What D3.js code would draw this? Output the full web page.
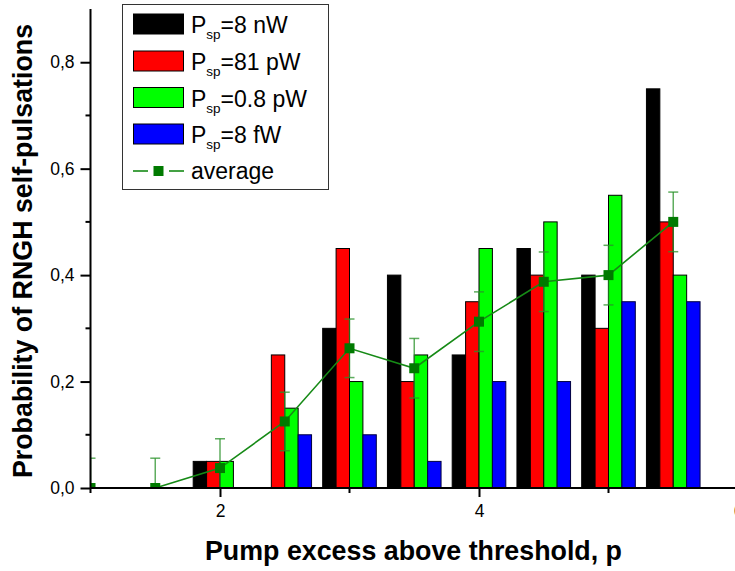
<!DOCTYPE html>
<html>
<head>
<meta charset="utf-8">
<script src="https://cdn.jsdelivr.net/npm/d3@7"></script>
<style>
  body { margin: 0; background: #fff; }
  text { font-family: Arial, "Liberation Sans", sans-serif; }
</style>
</head>
<body>
<div id="chart"></div>
<script>
// Data
const groupX = [2, 2.5, 3, 3.5, 4, 4.5, 5, 5.5];
const p8nW = [0.05, 0, 0.3, 0.4, 0.25, 0.45, 0.4, 0.75];
const p81pW = [0.05, 0.25, 0.45, 0.2, 0.35, 0.4, 0.3, 0.5];
const p08pW = [0.05, 0.15, 0.2, 0.25, 0.45, 0.5, 0.55, 0.4];
const p8fW = [0, 0.1, 0.1, 0.05, 0.2, 0.2, 0.35, 0.35];

const avgX = [1, 1.5, 2, 2.5, 3, 3.5, 4, 4.5, 5, 5.5];
const avgY = [0, 0, 0.0375, 0.125, 0.2625, 0.225, 0.3125, 0.3875, 0.4, 0.5];
const avgErr = [0.056, 0.056, 0.055, 0.055, 0.055, 0.056, 0.056, 0.056, 0.056, 0.056];

const seriesNames = ["=8 nW", "=81 pW", "=0.8 pW", "=8 fW"];
const seriesColors = ["#000000", "#ff0000", "#00ff00", "#0000ff"];
const yTicks = [0, 0.2, 0.4, 0.6, 0.8];
const yMinor = [0.1, 0.3, 0.5, 0.7];
const xTicks = [2, 4, 6];
const xMinor = [1, 3, 5];

const width = 735;
const height = 571;

const svg = d3.select("#chart")
    .append("svg")
    .attr("width", width)
    .attr("height", height);

// Scales
const x = d3.scaleLinear().domain([1, 6]).range([90.5, 738]);
const y = d3.scaleLinear().domain([0, 0.9]).range([488, 9]);
const barW = 0.1035; // bar width in data units

svg.append("clipPath").attr("id", "plot")
    .append("rect").attr("x", 90).attr("y", 0).attr("width", 650).attr("height", 488);

const plot = svg.append("g").attr("clip-path", "url(#plot)");

// Bars
const allSeries = [p8nW, p81pW, p08pW, p8fW];
allSeries.forEach((vals, s) => {
    plot.append("g")
        .selectAll("rect")
        .data(groupX.map((gx, i) => ({ gx: gx, v: vals[i] })).filter(d => d.v > 0))
        .enter()
        .append("rect")
        .attr("x", d => x(d.gx + (s - 2) * barW))
        .attr("y", d => y(d.v))
        .attr("width", x(1 + barW) - x(1))
        .attr("height", d => y(0) - y(d.v))
        .attr("fill", seriesColors[s])
        .attr("stroke", s === 3 ? "#000040" : "#000")
        .attr("stroke-width", 1);
});

// Average line
const avgData = avgX.map((ax, i) => ({ x: ax, y: avgY[i], e: avgErr[i] }));
const line = d3.line().x(d => x(d.x)).y(d => y(d.y));

plot.append("path")
    .datum(avgData)
    .attr("d", line)
    .attr("fill", "none")
    .attr("stroke", "#168a16")
    .attr("stroke-width", 1.6);

// Error bars
const err = plot.append("g")
    .attr("stroke", "#2a922a")
    .attr("stroke-opacity", 0.75)
    .attr("stroke-width", 1.5);
err.selectAll("line.v")
    .data(avgData).enter().append("line")
    .attr("x1", d => x(d.x)).attr("x2", d => x(d.x))
    .attr("y1", d => y(d.y + d.e)).attr("y2", d => y(d.y - d.e));
err.selectAll("line.t")
    .data(avgData).enter().append("line")
    .attr("x1", d => x(d.x) - 5).attr("x2", d => x(d.x) + 5)
    .attr("y1", d => y(d.y + d.e)).attr("y2", d => y(d.y + d.e));
err.selectAll("line.b")
    .data(avgData).enter().append("line")
    .attr("x1", d => x(d.x) - 5).attr("x2", d => x(d.x) + 5)
    .attr("y1", d => y(d.y - d.e)).attr("y2", d => y(d.y - d.e));

// Markers
plot.selectAll("rect.m")
    .data(avgData).enter().append("rect")
    .attr("x", d => x(d.x) - 5)
    .attr("y", d => y(d.y) - 5)
    .attr("width", 10)
    .attr("height", 10)
    .attr("fill", "#007a00");

// Axes
const fmt = d => d3.format(".1f")(d).replace(".", ",");
const yAxis = svg.append("g")
    .attr("transform", `translate(${x(1)},0)`)
    .call(d3.axisLeft(y).tickValues(yTicks).tickFormat(fmt).tickSize(10).tickPadding(6));
yAxis.append("g").selectAll("line")
    .data(yMinor).enter().append("line")
    .attr("x1", -5).attr("x2", 0)
    .attr("y1", d => y(d)).attr("y2", d => y(d))
    .attr("stroke", "#000");

const xAxis = svg.append("g")
    .attr("transform", `translate(0,${y(0)})`)
    .call(d3.axisBottom(x).tickValues(xTicks).tickFormat(d3.format("d")).tickSize(9).tickPadding(8));
xAxis.append("g").selectAll("line")
    .data(xMinor).enter().append("line")
    .attr("x1", d => x(d)).attr("x2", d => x(d))
    .attr("y1", 0).attr("y2", 5)
    .attr("stroke", "#000");

[yAxis, xAxis].forEach(a => {
    a.select(".domain").attr("stroke-width", 2);
    a.selectAll("line").attr("stroke-width", 2);
    a.selectAll("text").style("font-size", "17.5px").attr("fill", "#000");
});
yAxis.select(".domain").attr("d", `M0,${y(0.9)}V${y(0)}`);
xAxis.select(".domain").attr("d", `M${x(1)},0H${x(6)}`);

// Axis titles
svg.append("text")
    .attr("x", 413.5)
    .attr("y", 560)
    .attr("text-anchor", "middle")
    .style("font-size", "26.8px")
    .style("font-weight", "bold")
    .text("Pump excess above threshold, p");

svg.append("text")
    .attr("transform", "translate(32,251) rotate(-90)")
    .attr("text-anchor", "middle")
    .style("font-size", "26.8px")
    .style("font-weight", "bold")
    .text("Probability of RNGH self-pulsations");

// Legend
const legend = svg.append("g").attr("class", "legend");
legend.append("rect")
    .attr("x", 122.5).attr("y", 4.5)
    .attr("width", 206).attr("height", 185)
    .attr("fill", "#fff")
    .attr("stroke", "#333")
    .attr("stroke-width", 1);

const rowY = [24, 61, 97.5, 134, 171];
seriesNames.forEach((name, i) => {
    legend.append("rect")
        .attr("x", 133.5).attr("y", rowY[i] - 10)
        .attr("width", 50).attr("height", 20)
        .attr("fill", seriesColors[i])
        .attr("stroke", "#000");
    const t = legend.append("text")
        .attr("x", 191)
        .attr("y", rowY[i] + 9)
        .style("font-size", "23px");
    t.append("tspan").text("P");
    t.append("tspan").attr("dy", 6).style("font-size", "13.5px").text("sp");
    t.append("tspan").attr("dy", -6).text(name);
});

legend.append("line")
    .attr("x1", 133).attr("x2", 148)
    .attr("y1", rowY[4]).attr("y2", rowY[4])
    .attr("stroke", "#168a16").attr("stroke-width", 1.6);
legend.append("line")
    .attr("x1", 169).attr("x2", 184)
    .attr("y1", rowY[4]).attr("y2", rowY[4])
    .attr("stroke", "#168a16").attr("stroke-width", 1.6);
legend.append("rect")
    .attr("x", 153.5).attr("y", rowY[4] - 5)
    .attr("width", 10).attr("height", 10)
    .attr("fill", "#007a00");
legend.append("text")
    .attr("x", 191)
    .attr("y", rowY[4] + 8)
    .style("font-size", "23px")
    .text("average");
</script>
</body>
</html>
